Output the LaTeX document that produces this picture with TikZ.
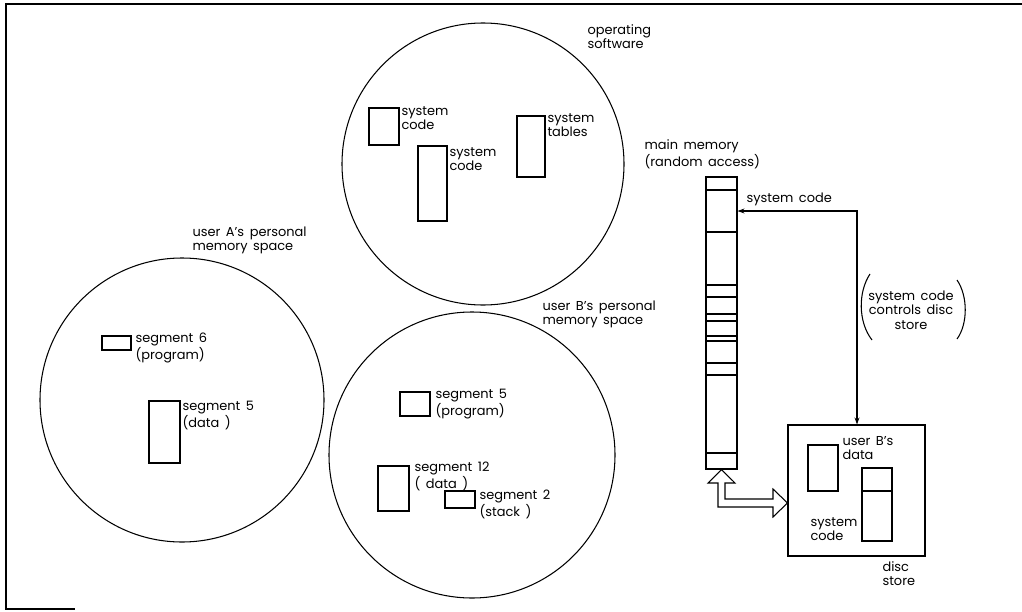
\documentclass[tikz,border=0pt]{standalone}
\usepackage{fontspec}
\setmainfont{Poppins}[WordSpace=1.6]
\usetikzlibrary{arrows.meta,positioning,fit}

\begin{document}
\begin{tikzpicture}[x=0.025cm, y=-0.025cm, line width=0.75pt,
    every node/.append style={font=\fontsize{9.2}{10.2}\selectfont},
    blk/.style={draw, inner sep=0pt, line width=0.75pt},
    lbl/.style={anchor=north west, inner sep=0pt, align=left},
    arr/.style={{Stealth[length=5pt,width=3.5pt]}-{Stealth[length=5pt,width=3.5pt]}}
  ]
  \useasboundingbox (0,0) rectangle (1022,612);
  % page frame
  \draw[line width=1.3pt] (1022,4) -- (6,4) -- (6,609) -- (75,609);

  % operating software
  \draw (483,164) circle [radius=141];
  \node[lbl] (opsw) at (587,24) {operating\\software};
  \node[blk, fit={(369,108) (399,145)}] (sc1) {};
  \node[lbl] (sc1t) at (401,106) {system\\code};
  \node[blk, fit={(418,146) (447,221)}] (sc2) {};
  \node[lbl] (sc2t) at (449,147) {system\\code};
  \node[blk, fit={(517,116) (545,177)}] (tab) {};
  \node[lbl] (tabt) at (547,113) {system\\tables};

  % user A
  \draw (182,400) circle [radius=142];
  \node[lbl] (usera) at (192,226) {user A’s personal\\memory space};
  \node[blk, fit={(102,336) (131,350)}] (a6) {};
  \node[lbl] (a6t) at (135,332) {segment 6\\(program)};
  \node[blk, fit={(149,401) (180,463)}] (a5) {};
  \node[lbl] (a5t) at (182,401) {segment 5\\(data )};

  % user B
  \draw (472,455) circle [radius=143];
  \node[lbl] (userb) at (542,300) {user B’s personal\\memory space};
  \node[blk, fit={(400,392) (430,416)}] (b5) {};
  \node[lbl] (b5t) at (435,389) {segment 5\\(program)};
  \node[blk, fit={(378,466) (409,511)}] (b12) {};
  \node[lbl] (b12t) at (414,461) {segment 12\\( data )};
  \node[blk, fit={(445,491) (475,508)}] (b2) {};
  \node[lbl] (b2t) at (479,489) {segment 2\\(stack )};

  % main memory
  \node[lbl] (mmt) at (644,139) {main memory\\(random access)};
  \node[blk, fit={(706,177) (737,469)}] (mem) {};
  \foreach \y in {190,232,285,297,314,321,336,341,363,375,453}
    \draw (706,\y) -- (737,\y);

  % disc store
  \node[blk, fit={(788,425) (925,556)}] (disc) {};
  \node[blk, fit={(808,445) (838,491)}] (ubd) {};
  \node[lbl] (ubdt) at (842,436) {user B’s\\data};
  \node[blk, fit={(862,468) (892,541)}] (dsc) {};
  \draw (862,491) -- (892,491);
  \node[lbl] (dsct) at (810,517) {system\\code};
  \node[lbl] (disct) at (882,561) {disc\\store};

  % control line
  \coordinate (turn) at (857,211);
  \draw[arr] (mem.east |- turn) -- (turn) -- (turn |- disc.north);
  \node[lbl] (sct) at (746,192) {system code};
  \node[align=center, inner sep=0pt] (ctl) at (911,310) {system code\\controls disc\\store};
  \draw (870,274) .. controls (858,292) and (858,322) .. (872,340);
  \draw (957,280) .. controls (968,296) and (968,324) .. (957,339);

  % transfer path
  \draw[fill=white] (mem.south) -- (735,483) -- (725,483) -- (725,499) -- (773,499)
    -- (773,489) -- (disc.west |- 0,503) -- (773,517) -- (773,507) -- (718,507)
    -- (718,483) -- (708,483) -- cycle;
\end{tikzpicture}
\end{document}
